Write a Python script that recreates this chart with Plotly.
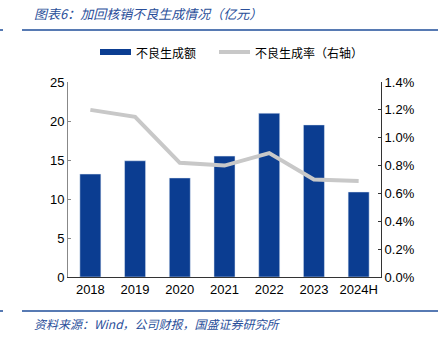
import plotly.graph_objects as go

categories = ["2018", "2019", "2020", "2021", "2022", "2023", "2024H"]
npl_amount = [13.2, 14.9, 12.7, 15.5, 21.0, 19.5, 10.9]
npl_rate = [1.20, 1.15, 0.82, 0.80, 0.89, 0.70, 0.69]
left_ticks = [0, 5, 10, 15, 20, 25]
right_ticks = [0.0, 0.2, 0.4, 0.6, 0.8, 1.0, 1.2, 1.4]
bar_name = "不良生成额"
line_name = "不良生成率（右轴）"

BLUE = "#0b3d91"
GRAY = "#c8c8c8"

fig = go.Figure()
fig.add_trace(go.Bar(x=categories, y=npl_amount, name=bar_name,
                     marker_color=BLUE, yaxis="y"))
fig.add_trace(go.Scatter(x=categories, y=npl_rate, name=line_name,
                         mode="lines", line=dict(color=GRAY, width=4), yaxis="y2"))

L, R, T, B = 68, 57, 82, 64
PW, PH = 438 - L - R, 341 - T - B

def px(x):
    return (x - L) / PW

def py(y):
    return (341 - B - y) / PH

fig.update_layout(
    width=438, height=341,
    margin=dict(l=L, r=R, t=T, b=B),
    paper_bgcolor="white", plot_bgcolor="white",
    bargap=0.53,
    showlegend=False,
    font=dict(family="Liberation Sans, Arial", size=13, color="#000"),
    xaxis=dict(showline=True, linecolor="#333", linewidth=1, ticks="",
               tickfont=dict(size=13)),
    yaxis=dict(range=[0, 25], tickvals=left_ticks, showgrid=False, zeroline=False,
               showline=True, linecolor="#888", ticks="inside", ticklen=3, tickcolor="#888",
               tickfont=dict(size=13)),
    yaxis2=dict(range=[0, 1.4], tickvals=right_ticks,
                ticktext=[f"{v:.1f}%" for v in right_ticks],
                overlaying="y", side="right", showgrid=False, zeroline=False,
                showline=True, linecolor="#333", ticks="inside", ticklen=3, tickcolor="#333",
                tickfont=dict(size=13)),
)

# custom legend
fig.add_shape(type="rect", xref="paper", yref="paper",
              x0=px(100), x1=px(131), y0=py(55), y1=py(49),
              fillcolor=BLUE, line=dict(width=0))
fig.add_annotation(text=bar_name, xref="paper", yref="paper", x=px(134), y=py(52),
                   xanchor="left", yanchor="middle", showarrow=False,
                   font=dict(family="Noto Sans CJK SC", size=12, color="#000"))
fig.add_shape(type="line", xref="paper", yref="paper",
              x0=px(219), x1=px(250), y0=py(52), y1=py(52),
              line=dict(color=GRAY, width=4))
fig.add_annotation(text=line_name, xref="paper", yref="paper", x=px(253), y=py(52),
                   xanchor="left", yanchor="middle", showarrow=False,
                   font=dict(family="Noto Sans CJK SC", size=12, color="#000"))

fig.add_annotation(text="<i>图表6：加回核销不良生成情况（亿元）</i>", xref="paper", yref="paper",
                   x=px(32), y=py(14), xanchor="left", yanchor="middle",
                   showarrow=False,
                   font=dict(family="Noto Sans CJK SC", size=13, color="#2a4f9a"))
fig.add_annotation(text="<i>资料来源：Wind，公司财报，国盛证券研究所</i>", xref="paper", yref="paper",
                   x=px(32), y=py(323), xanchor="left", yanchor="middle",
                   showarrow=False,
                   font=dict(family="Noto Sans CJK SC", size=12, color="#2a4f9a"))

def hline(x0, x1, ypix, color, w):
    fig.add_shape(type="line", xref="paper", yref="paper",
                  x0=px(x0), x1=px(x1), y0=py(ypix), y1=py(ypix),
                  line=dict(color=color, width=w))

hline(22, 438, 30, "#1f4e9a", 1.5)
hline(0, 3, 30, "#1f4e9a", 1.5)
hline(22, 438, 311, "#1f4e9a", 1.5)
hline(0, 3, 311, "#1f4e9a", 1.5)

fig.write_html("out.html")
